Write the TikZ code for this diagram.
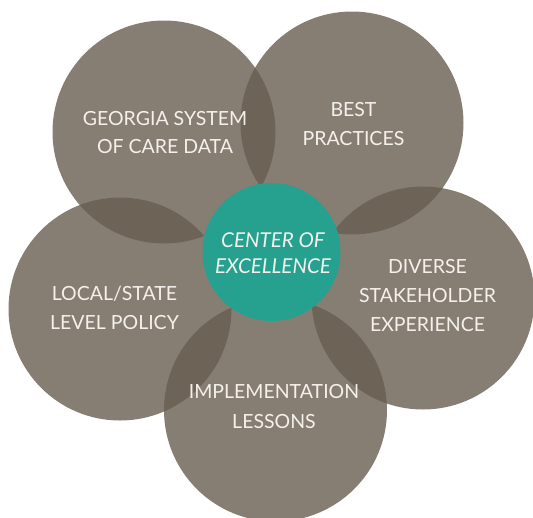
\documentclass[tikz,border=0pt]{standalone}
\usepackage{fontspec}
\setmainfont{Lato}
\definecolor{petal}{RGB}{104,93,80}
\definecolor{tealc}{RGB}{39,161,143}
\definecolor{txt}{RGB}{244,241,236}
\begin{document}
\begin{tikzpicture}[x=1pt,y=-1pt,
  petalc/.style={circle,fill=petal,fill opacity=0.8,minimum size=223pt,inner sep=0pt},
  label/.style={text=txt,font=\fontsize{19.5}{29}\selectfont,align=center},
  core/.style={circle,fill=tealc,minimum size=138pt,inner sep=0pt}]
\useasboundingbox (0,0) rectangle (533,517);
\node[petalc] (c1) at (164,132) {};
\node[petalc] (c2) at (352,123) {};
\node[petalc] (c3) at (423,298) {};
\node[petalc] (c4) at (120,309) {};
\node[petalc] (c5) at (275.5,410) {};
\node[core] (c0) at (271.5,252) {};
\node[label,font=\fontsize{19.5}{28}\selectfont] (t1) at (165,133) {GEORGIA SYSTEM\\OF CARE DATA};
\node[label] (t2) at (353.5,124.5) {BEST\\PRACTICES};
\node[label] (t3) at (427.5,296) {DIVERSE\\STAKEHOLDER\\EXPERIENCE};
\node[label] (t4) at (114.5,308) {LOCAL/STATE\\LEVEL POLICY};
\node[label,font=\fontsize{19.5}{30}\selectfont] (t5) at (274,406.5) {IMPLEMENTATION\\LESSONS};
\node[label,font=\fontsize{20.5}{26}\selectfont\itshape] (t0) at (273,253) {CENTER OF\\EXCELLENCE};
\end{tikzpicture}
\end{document}
